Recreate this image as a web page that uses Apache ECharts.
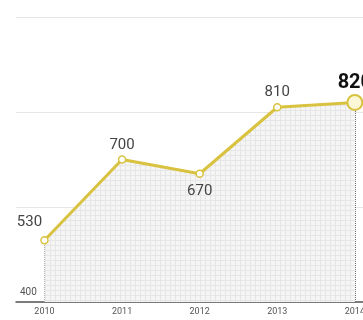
<!DOCTYPE html>
<html>
<head>
<meta charset="utf-8">
<script src="https://cdn.jsdelivr.net/npm/echarts@6/dist/echarts.min.js"></script>
<style>
html,body{margin:0;padding:0;background:#fff;}
#c{width:363px;height:320px;}
</style>
</head>
<body>
<div id="c"></div>
<script>
var years = [2010, 2011, 2012, 2013, 2014];
var values = [530, 700, 670, 810, 820];
var yTicks = [400, 600, 800, 1000];

// graph-paper texture for the area fill
var pat = document.createElement('canvas');
pat.width = 5; pat.height = 5;
var g = pat.getContext('2d');
g.fillStyle = '#f5f5f5'; g.fillRect(0, 0, 5, 5);
g.fillStyle = '#e6e6e6'; g.fillRect(0, 0, 5, 1); g.fillRect(0, 0, 1, 5);

var lineColor = '#d8c23f';
var last = values.length - 1;

var data = values.map(function (v, i) {
  var item = { value: [years[i], v] };
  var lab = { show: true, position: 'top', distance: 3, color: '#444', fontSize: 15, fontFamily: 'Roboto' };
  if (i === 0) { lab.offset = [-15, -3]; }
  if (i === 2) { lab.position = 'bottom'; lab.distance = 6; }
  if (i === last) {
    lab.fontSize = 20; lab.fontWeight = 'bold'; lab.color = '#111'; lab.distance = 1;
    item.symbolSize = 15;
    item.itemStyle = { color: '#fcf7d6', borderColor: lineColor, borderWidth: 2 };
  }
  item.label = lab;
  return item;
});

var drops = values.map(function (v, i) {
  return [{ coord: [years[i], yTicks[0]] }, { coord: [years[i], v] }];
});

var chart = echarts.init(document.getElementById('c'), null, { renderer: 'canvas' });
chart.setOption({
  animation: false,
  grid: { left: 16, width: 385.4, top: 17, bottom: 18, containLabel: false, outerBoundsMode: 'none' },
  xAxis: {
    type: 'value',
    min: 2009.633,
    max: 2014.6,
    axisLine: { show: true, onZero: false, lineStyle: { color: '#555', width: 1.5 } },
    axisTick: { show: false },
    splitLine: { show: false },
    axisLabel: {
      customValues: years,
      color: '#555', fontSize: 9, fontFamily: 'Roboto', margin: 5,
      formatter: function (v) { return String(v); }
    }
  },
  yAxis: {
    type: 'value',
    min: 400,
    max: 1000,
    interval: 200,
    axisLine: { show: false },
    axisTick: { show: false },
    splitLine: { show: true, lineStyle: { color: '#e6e6e6', width: 1 } },
    axisLabel: {
      inside: true, margin: 4, color: '#555', fontSize: 10, fontFamily: 'Roboto',
      verticalAlign: 'bottom', padding: [0, 0, 5, 0],
      formatter: function (v) { return v === yTicks[0] ? String(v) : ''; }
    }
  },
  series: [{
    type: 'line',
    data: data,
    symbol: 'circle',
    symbolSize: 7,
    showAllSymbol: true,
    lineStyle: { color: lineColor, width: 3 },
    itemStyle: { color: '#ffffff', borderColor: lineColor, borderWidth: 1.5 },
    areaStyle: { color: { image: pat, repeat: 'repeat' }, origin: 'start', opacity: 1 },
    z: 3,
    markLine: {
      silent: true,
      symbol: ['none', 'none'],
      label: { show: false },
      lineStyle: { color: '#6f6f6f', type: 'dotted', width: 1 },
      data: drops,
      z: 2
    }
  }]
});
</script>
</body>
</html>
